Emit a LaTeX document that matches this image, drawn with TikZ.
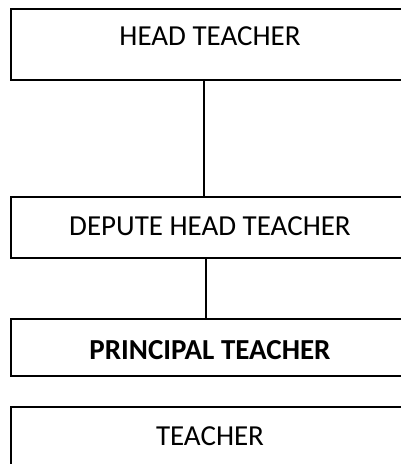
\documentclass[tikz,border=0pt]{standalone}
\usepackage{fontspec}
\setmainfont{Carlito}
\usetikzlibrary{positioning}
\tikzset{
  rbox/.style={draw=black, line width=1.1pt, inner sep=0pt, anchor=base,
               minimum width=398pt, align=center, font=\fontsize{29}{32}\selectfont},
  lnk/.style={black, line width=1.1pt},
}
\begin{document}
\begin{tikzpicture}[x=1pt, y=-1pt]
    \useasboundingbox (0,0) rectangle (401,464);
    \node[rbox, text height=36pt, text depth=35pt] (head) at (210,45) {HEAD TEACHER};
    \node[rbox, text height=38pt, text depth=23pt] (dep) at (210,235) {DEPUTE HEAD TEACHER};
    \node[rbox, text height=40pt, text depth=17pt] (prin) at (210,359) {\bfseries PRINCIPAL TEACHER};
    \node[rbox, text height=38pt, text depth=35pt] (tch) at (210,445) {TEACHER};
    \draw[lnk] ([xshift=-6pt]head.south) -- ([xshift=-6pt]dep.north);
    \draw[lnk] ([xshift=-4pt]dep.south) -- ([xshift=-4pt]prin.north);
\end{tikzpicture}
\end{document}
